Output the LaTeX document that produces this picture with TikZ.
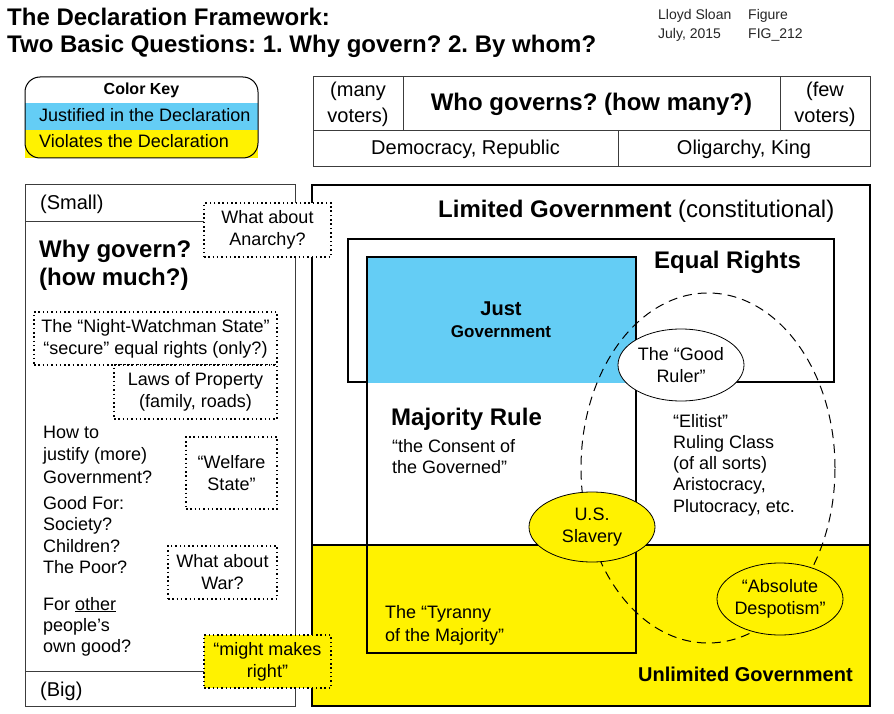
\documentclass[tikz,border=0pt]{standalone}
\usepackage{fontspec}
\setmainfont{Liberation Sans}
\usetikzlibrary{shapes.geometric}
\definecolor{keyblue}{RGB}{100,205,245}
\definecolor{linegray}{RGB}{60,60,60}
\newcommand{\fs}[2]{\fontsize{#1}{#2}\selectfont}
\frenchspacing
\begin{document}
\frenchspacing
\begin{tikzpicture}[x=1pt,y=-1pt,
  txt/.style={inner sep=0pt, font=\fs{18}{22}},
  dotbox/.style={draw, dash pattern=on 1.5pt off 2.8pt, line width=1.5pt, fill=white, inner sep=0pt, align=center, font=\fs{18}{22}},
  cell/.style={draw=linegray, line width=1pt, inner sep=0pt, align=center, font=\fs{20}{26}},
  boxframe/.style={draw=black, line width=2pt, inner sep=0pt},
  oval/.style={ellipse, draw, line width=0.8pt, inner sep=0pt, minimum width=126, minimum height=72}
]
\useasboundingbox (0,0) rectangle (894,714);
\fill[white] (0,0) rectangle (894,714);

% title and credits (base anchor = baseline of last line)
\node[anchor=base west, inner sep=0pt, align=left, font=\bfseries\fs{24}{27}] (title) at (7,53) {The Declaration Framework:\\Two Basic Questions: 1. Why govern? 2. By whom?};
\node[anchor=base west, txt, align=left, font=\fs{14}{19}, text=black!85] (author) at (658,39) {Lloyd Sloan\\July, 2015};
\node[anchor=base west, txt, align=left, font=\fs{14}{19}, text=black!85] (fig) at (748,39) {Figure\\FIG\_212};

% colour key
\fill[keyblue] (25,103) rectangle (258,130);
\fill[yellow] (25,130) rectangle (258,158);
\node[draw, line width=1pt, rounded corners=15pt, minimum width=233, minimum height=81, inner sep=0pt] (key) at (141.5,117.5) {};
\node[anchor=base, txt, font=\bfseries\fs{16}{19}] (keyhead) at (141.5,95) {Color Key};
\node[anchor=base west, txt] (keyjust) at (39,122) {Justified in the Declaration};
\node[anchor=base west, txt] (keyviol) at (39,148) {Violates the Declaration};

% who governs table
\node[cell, minimum width=90, minimum height=54] (many) at (358,104) {(many\\voters)};
\node[cell, minimum width=377, minimum height=54, font=\bfseries\fs{24}{28}] (who) at (591.5,104) {Who governs? (how many?)};
\node[cell, minimum width=90, minimum height=54] (few) at (825,104) {(few\\voters)};
\node[cell, minimum width=305, minimum height=36] (dem) at (465.5,149) {Democracy, Republic};
\node[cell, minimum width=252, minimum height=36] (oli) at (744,149) {Oligarchy, King};

% main frame
\node[boxframe, fill=white, minimum width=558, minimum height=521] (limited) at (591,445.5) {};
\node[boxframe, fill=yellow, minimum width=558, minimum height=161] (unlimited) at (591,625.5) {};
\node[boxframe, minimum width=486, minimum height=143] (equal) at (591,310.5) {};
\fill[keyblue] (367,257) rectangle (636,383);
\node[boxframe, minimum width=269, minimum height=396] (majority) at (501.5,455) {};
\node[ellipse, draw, dash pattern=on 9pt off 6pt, line width=1pt, minimum width=254, minimum height=350, inner sep=0pt] (elite) at (708,468) {};
\node[oval, fill=white] (goodruler) at (681,365) {};
\node[oval, fill=yellow, minimum height=70] (slavery) at (592,527) {};
\node[oval, fill=yellow] (despot) at (780,599) {};
\node[txt, align=center] (goodrulertext) at (goodruler) {The “Good\\Ruler”};
\node[txt, align=center] (slaverytext) at (slavery) {U.S.\\Slavery};
\node[txt, align=center] (despottext) at (despot) {“Absolute\\Despotism”};

\node[anchor=base west, txt, font=\fs{24}{28}] (limtext) at (438,218) {\textbf{Limited Government} (constitutional)};
\node[anchor=base west, txt, font=\bfseries\fs{24}{28}] (eqtext) at (654,268) {Equal Rights};
\node[anchor=base, txt, align=center, font=\bfseries\fs{20}{22}] (justtext) at (501,337) {Just\\{\fs{17}{22}Government}};
\node[anchor=base west, txt, font=\bfseries\fs{24}{28}] (majtext) at (391,425) {Majority Rule};
\node[anchor=base west, txt, align=left, font=\fs{18}{21}] (consent) at (392,473) {“the Consent of\\the Governed”};
\node[anchor=base west, txt, align=left, font=\fs{18}{21.25}] (elitist) at (673,512) {“Elitist”\\Ruling Class\\(of all sorts)\\Aristocracy,\\Plutocracy, etc.};
\node[anchor=base west, txt, align=left, font=\fs{18}{23}] (tyranny) at (385,641) {The “Tyranny\\of the Majority”};
\node[anchor=base west, txt, font=\bfseries\fs{20}{24}] (unltext) at (638,681) {Unlimited Government};

% left panel
\node[draw=linegray, line width=1pt, minimum width=270, minimum height=521, inner sep=0pt] (panel) at (160,445.5) {};
\coordinate (smallsep) at (25,221.5);
\coordinate (bigsep) at (25,671);
\draw[linegray, line width=1pt] (smallsep) -- (smallsep -| panel.east);
\draw[linegray, line width=1pt] (bigsep) -- (bigsep -| panel.east);
\node[anchor=base west, txt, font=\fs{20}{24}] (small) at (40,210) {(Small)};
\node[anchor=base west, txt, align=left, font=\bfseries\fs{24}{28}] (whygov) at (39,285) {Why govern?\\(how much?)};
\node[anchor=base west, txt, align=left, font=\fs{18}{22.5}] (howto) at (43,483) {How to\\justify (more)\\Government?};
\node[anchor=base west, txt, align=left, font=\fs{18}{21.5}] (goodfor) at (43,573.5) {Good For:\\Society?\\Children?\\The Poor?};
\node[anchor=base west, txt, align=left, font=\fs{18}{21}] (forother) at (43,652) {For \underline{other}\\people’s\\own good?};
\node[anchor=base west, txt, font=\fs{20}{24}] (big) at (40,696) {(Big)};

% dotted boxes
\node[dotbox, minimum width=127, minimum height=54] (anarchy) at (267.5,230) {What about\\Anarchy?};
\node[dotbox, minimum width=243, minimum height=53] (night) at (155.5,338.5) {The “Night-Watchman State”\\“secure” equal rights (only?)};
\node[dotbox, minimum width=163, minimum height=54] (laws) at (195.5,392) {Laws of Property\\(family, roads)};
\node[dotbox, minimum width=91, minimum height=72] (welfare) at (231.5,473) {“Welfare\\State”};
\node[dotbox, minimum width=109, minimum height=53] (war) at (222.5,572.5) {What about\\War?};
\node[dotbox, fill=yellow, minimum width=127, minimum height=53] (might) at (267.5,661.5) {“might makes\\right”};
\end{tikzpicture}
\end{document}
